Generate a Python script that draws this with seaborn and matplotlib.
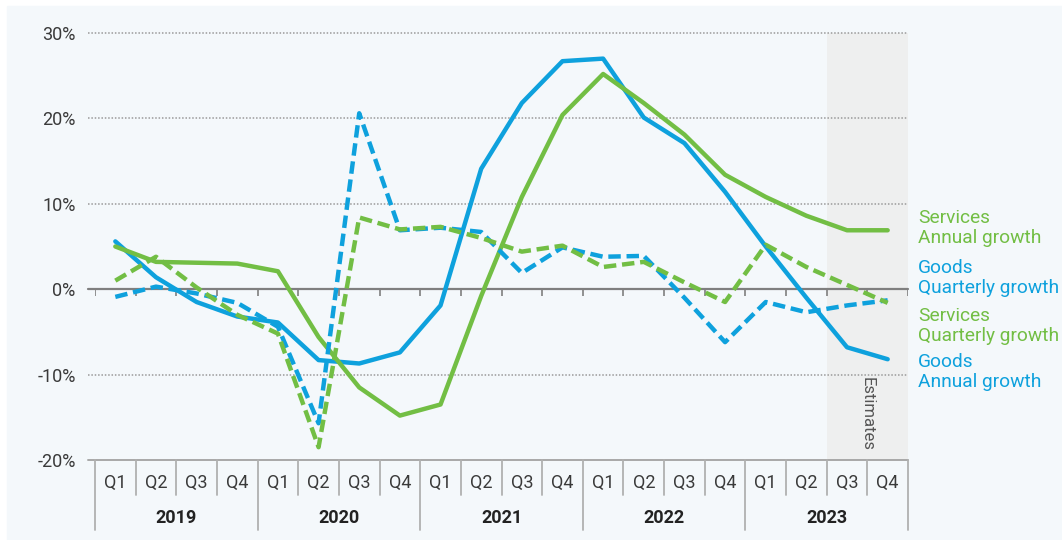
import numpy as np
import pandas as pd
import matplotlib
matplotlib.use("Agg")
import matplotlib.pyplot as plt
import matplotlib.transforms as mtransforms
import seaborn as sns

# Data (percent growth)
years = ["2019", "2020", "2021", "2022", "2023"]
quarters = ["Q1", "Q2", "Q3", "Q4"]

goods_annual = [5.6, 1.4, -1.5, -3.2, -3.9, -8.3, -8.7, -7.4, -1.9, 14.1, 21.8, 26.7,
                27.0, 20.1, 17.1, 11.4, 5.0, -1.0, -6.8, -8.2]
services_annual = [5.0, 3.2, 3.1, 3.0, 2.1, -5.6, -11.5, -14.8, -13.5, -0.8, 10.8, 20.4,
                   25.2, 21.8, 18.1, 13.4, 10.8, 8.6, 6.9, 6.9]
goods_quarterly = [-0.9, 0.3, -0.5, -1.6, -4.4, -15.7, 20.6, 6.9, 7.2, 6.7, 1.9, 4.9,
                   3.8, 3.9, -1.0, -6.2, -1.5, -2.7, -1.9, -1.3]
services_quarterly = [1.0, 3.8, 0.2, -3.0, -5.2, -18.5, 8.4, 7.0, 7.3, 6.0, 4.4, 5.1,
                      2.6, 3.2, 0.8, -1.5, 5.2, 2.6, 0.5, -1.6]

estimate_quarters = 2  # last two quarters are estimates

blue = "#0EA1DD"
green = "#72BE44"
bg = "#F4F8FB"

n = len(goods_annual)
pos = np.arange(n)

df = pd.concat([
    pd.DataFrame({"pos": pos, "value": goods_annual, "series": "Goods annual"}),
    pd.DataFrame({"pos": pos, "value": services_annual, "series": "Services annual"}),
    pd.DataFrame({"pos": pos, "value": goods_quarterly, "series": "Goods quarterly"}),
    pd.DataFrame({"pos": pos, "value": services_quarterly, "series": "Services quarterly"}),
])

palette = {"Goods annual": blue, "Services annual": green,
           "Goods quarterly": blue, "Services quarterly": green}
dashes = {"Goods annual": "", "Services annual": "",
          "Goods quarterly": (2.8, 1.3), "Services quarterly": (2.8, 1.3)}

sns.set_style("white")
plt.rcParams["font.family"] = ["Roboto", "DejaVu Sans"]

fig = plt.figure(figsize=(10.62, 5.40), dpi=100, facecolor="white")
fig.patches.append(plt.Rectangle((7 / 1062, 0), 1 - 7 / 1062, 1 - 6 / 540,
                                 transform=fig.transFigure, color=bg, zorder=-10))
ax = fig.add_axes([95 / 1062, 1 - 460 / 540, 813 / 1062, 427 / 540])
ax.set_facecolor("none")

# estimates band
ax.axvspan(n - estimate_quarters - 0.5, n - 0.5, color="#EEEFEF", zorder=0, lw=0)
ax.text(n - estimate_quarters / 2 - 0.5, -14.6, "Estimates", rotation=-90,
        ha="center", va="center", fontsize=12, color="#555555", zorder=1)

# grid
for yv in [-10, 10, 20, 30]:
    ax.axhline(yv, xmin=-0.008, xmax=1, color="#9A9A9A", lw=1.1, ls=(0, (1, 1.2)),
               zorder=1, clip_on=False)
ax.axhline(0, xmin=-0.008, xmax=1, color="#7F7F7F", lw=1.6, zorder=2, clip_on=False)
ax.axhline(-20, xmin=-0.008, xmax=1, color="#A8A8A8", lw=1.4, zorder=2, clip_on=False)
ax.vlines(np.arange(n + 1) - 0.5, -0.75, 0, color="#7F7F7F", lw=1.2, zorder=2)

sns.lineplot(data=df, x="pos", y="value", hue="series", style="series",
             palette=palette, dashes=dashes, linewidth=3.2, legend=False,
             ax=ax, zorder=3)

ax.set_xlim(-0.5, n - 0.5)
ax.set_ylim(-20, 30)
ax.set_xticks([])
ax.set_yticks([-20, -10, 0, 10, 20, 30])
ax.set_yticklabels([f"{v}%" for v in [-20, -10, 0, 10, 20, 30]], fontsize=13,
                   color="#3A3A3A")
ax.tick_params(axis="y", length=0, pad=14)
ax.set_xlabel("")
ax.set_ylabel("")
for s in ax.spines.values():
    s.set_visible(False)

# category axis: quarters and years
tr = mtransforms.blended_transform_factory(ax.transData, ax.transAxes)
for i in range(n):
    ax.text(i, -0.054, quarters[i % 4], transform=tr, ha="center", va="center",
            fontsize=13, color="#3A3A3A")
for k in range(n + 1):
    bottom = -0.164 if k % 4 == 0 else -0.082
    ax.plot([k - 0.5, k - 0.5], [0, bottom], transform=tr, color="#B0B0B0",
            lw=1.3, clip_on=False)
for j, yr in enumerate(years):
    ax.text(4 * j + 1.5, -0.137, yr, transform=tr, ha="center", va="center",
            fontsize=13, fontweight="bold", color="#222222")

# series labels on the right
labels = [("Services\nAnnual growth", green, 7.15),
          ("Goods\nQuarterly growth", blue, 1.3),
          ("Services\nQuarterly growth", green, -4.3),
          ("Goods\nAnnual growth", blue, -9.7)]
tr2 = mtransforms.blended_transform_factory(ax.transAxes, ax.transData)
for txt, col, yv in labels:
    ax.text(1.012, yv, txt, transform=tr2, ha="left", va="center", fontsize=13.8,
            color=col, linespacing=1.12)

fig.savefig("out.png", dpi=100, facecolor=fig.get_facecolor())
